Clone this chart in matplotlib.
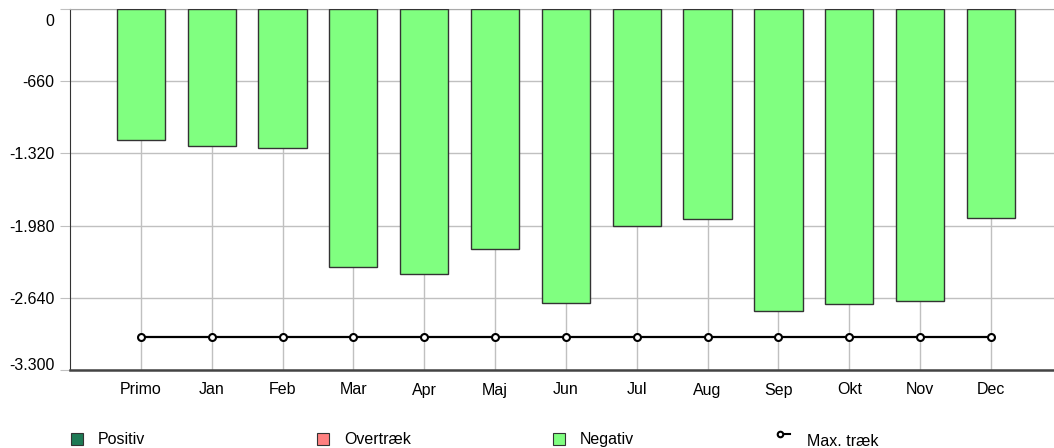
import matplotlib.pyplot as plt
import matplotlib.transforms as mtransforms
from matplotlib.patches import Rectangle
from matplotlib.lines import Line2D

plt.rcParams['font.family'] = ['Liberation Sans', 'DejaVu Sans']

months = ['Primo', 'Jan', 'Feb', 'Mar', 'Apr', 'Maj', 'Jun', 'Jul', 'Aug', 'Sep', 'Okt', 'Nov', 'Dec']
negativ = [-1200, -1255, -1273, -2358, -2422, -2194, -2687, -1983, -1920, -2760, -2697, -2672, -1910]
max_traek = [-3000] * 13
yticks = [0, -660, -1320, -1980, -2640, -3300]
ytick_labels = ['0', '-660', '-1.320', '-1.980', '-2.640', '-3.300']

legend_names = ['Positiv', 'Overtræk', 'Negativ', 'Max. træk']
legend_colors = ['#1e7a55', '#ff8080', '#80ff80']

W, H = 1054, 448
fs = 11.5
fig = plt.figure(figsize=(W / 100, H / 100), dpi=100)
ax = fig.add_axes([70 / W, 1 - 370 / H, (W - 70) / W, 361 / H])

x = list(range(len(months)))
ax.bar(x, negativ, width=0.68, color='#80ff80', edgecolor='#333333', linewidth=1, zorder=3)
ax.plot(x, max_traek, color='black', linewidth=1.6, marker='o', markersize=5,
        markerfacecolor='white', markeredgecolor='black', markeredgewidth=1.5, zorder=4)

ax.set_xlim(-1, 12.89)
ax.set_ylim(-3300, 0)
ax.set_xticks(x)
ax.set_xticklabels(months)
ax.set_yticks(yticks)
ax.set_yticklabels(ytick_labels)
ax.grid(True, color='#c0c0c0', linewidth=1, zorder=0)
ax.set_axisbelow(True)
ax.tick_params(axis='x', length=0, pad=9, labelsize=fs)
ax.tick_params(axis='y', length=7, color='#c0c0c0', pad=4, labelsize=fs)
ax.spines['right'].set_visible(False)
ax.spines['top'].set_color('#aaaaaa')
ax.spines['left'].set_color('#333333')
ax.spines['bottom'].set_color('#444444')
ax.spines['bottom'].set_linewidth(1.8)

# keep the end labels inside the figure
ylabels = ax.get_yticklabels()
shift_down = mtransforms.ScaledTranslation(0, -11 / 100, fig.dpi_scale_trans)
shift_up = mtransforms.ScaledTranslation(0, 6 / 100, fig.dpi_scale_trans)
ylabels[0].set_transform(ylabels[0].get_transform() + shift_down)
ylabels[-1].set_transform(ylabels[-1].get_transform() + shift_up)

# legend row along the bottom
ly = 1 - 439 / H
lx = [70, 316, 552, 780]
for i, name in enumerate(legend_names):
    if i < 3:
        fig.add_artist(Rectangle(((lx[i] + 1) / W, ly - 6 / H), 12 / W, 12 / H,
                                 facecolor=legend_colors[i], edgecolor='#333333', linewidth=0.8,
                                 transform=fig.transFigure))
        fig.text((lx[i] + 28) / W, ly, name, fontsize=fs, va='center')
    else:
        fig.add_artist(Line2D([(lx[i]) / W, (lx[i] + 10) / W], [ly + 5 / H, ly + 5 / H],
                              color='black', linewidth=1.5, marker='o', markersize=4,
                              markevery=[0], markerfacecolor='white', markeredgewidth=1.5,
                              transform=fig.transFigure))
        fig.text((lx[i] + 27) / W, ly - 2 / H, name, fontsize=fs, va='center')

fig.savefig('out.png', dpi=100)
